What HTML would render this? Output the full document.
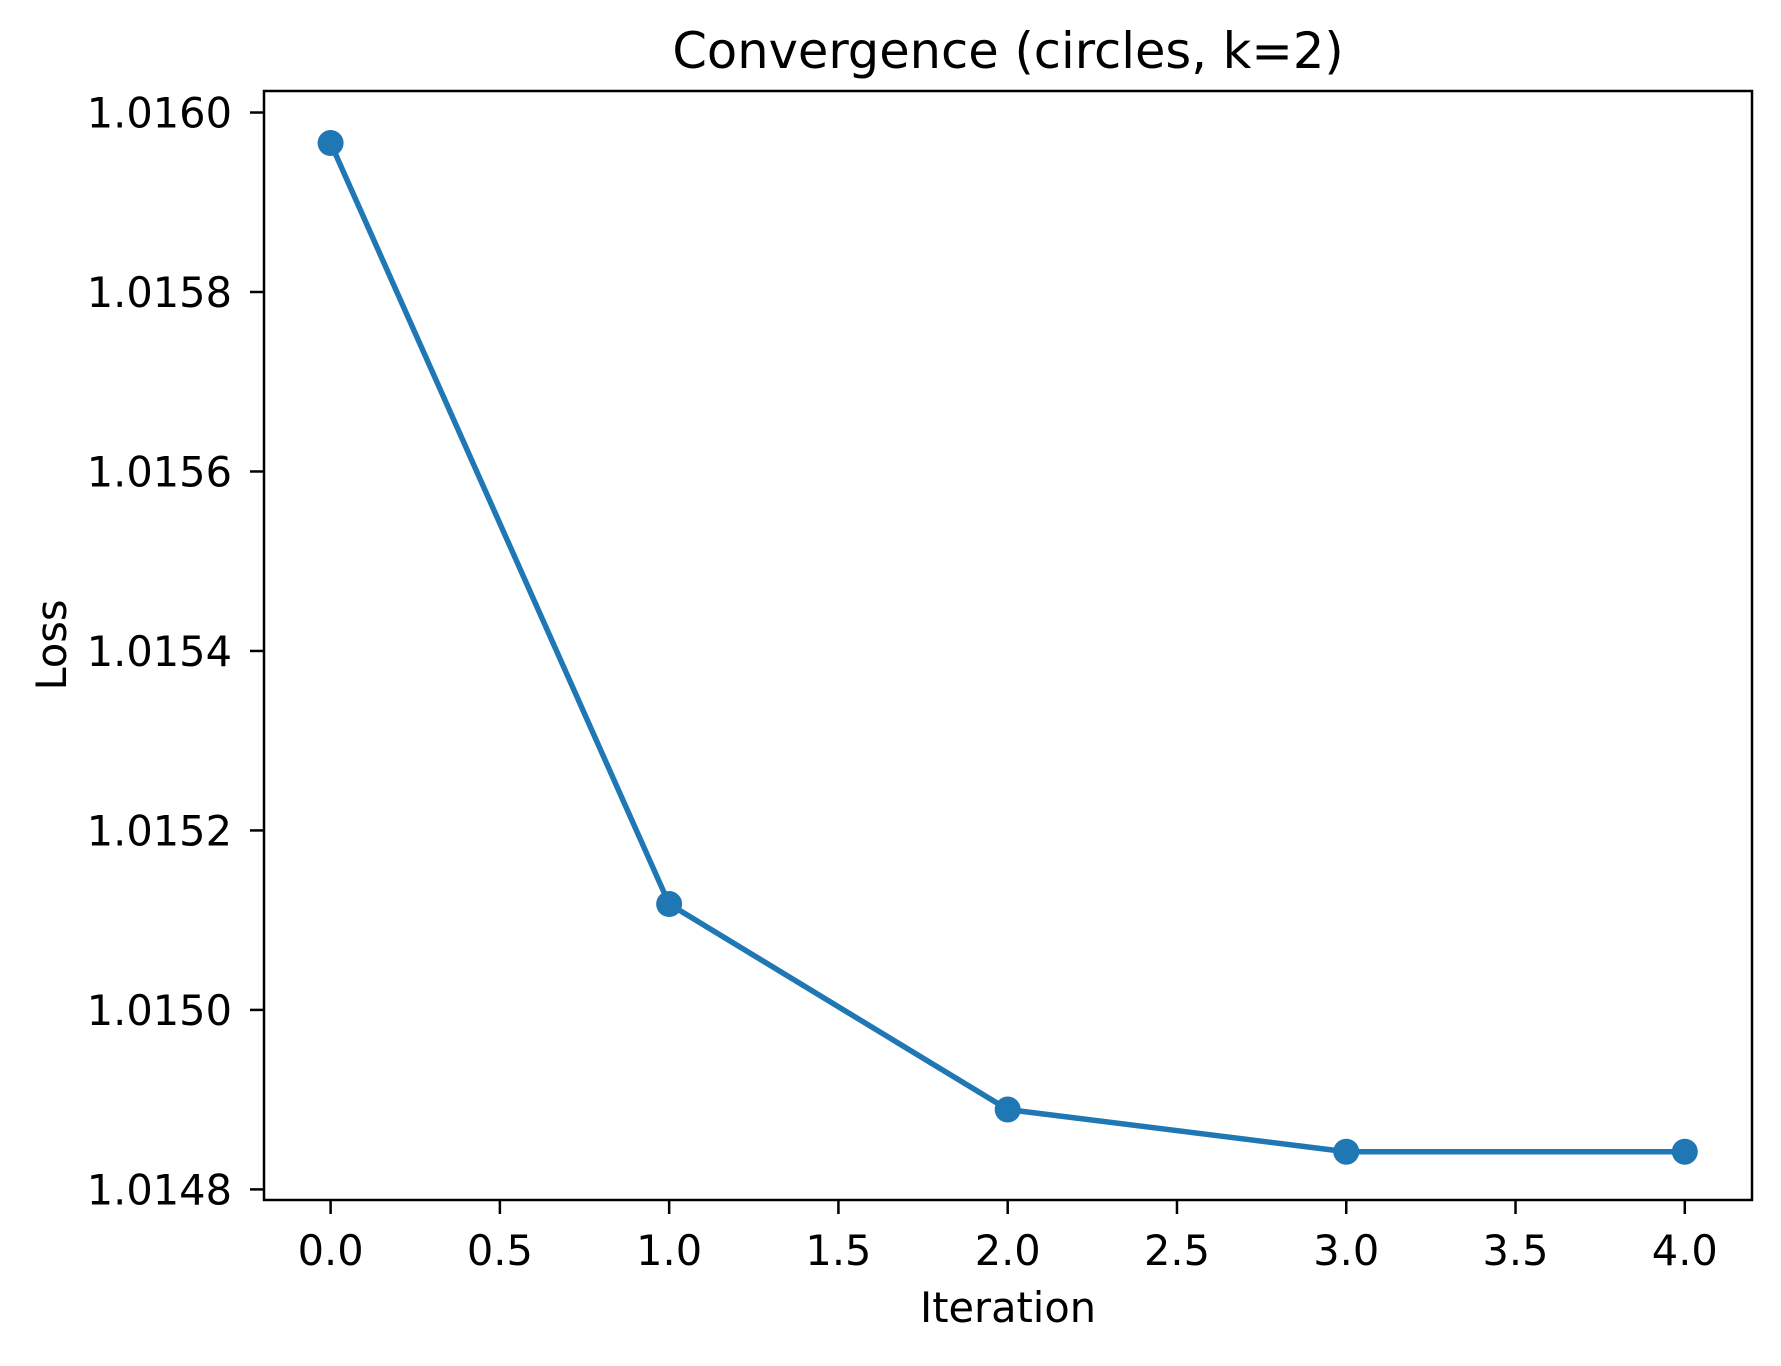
<!DOCTYPE html>
<html><head><meta charset="utf-8"><style>
html,body{margin:0;padding:0;background:#fff;}
svg text{font-family:"DejaVu Sans","Liberation Sans",sans-serif;fill:#000;}
</style></head><body>
<svg id="chart" width="1781" height="1361" viewBox="0 0 1781 1361" xmlns="http://www.w3.org/2000/svg">
<rect width="1781" height="1361" fill="#fff"/>
<text x="1008" y="68" font-size="49.5" text-anchor="middle">Convergence (circles, k=2)</text>
<text x="1008" y="1322" font-size="41.5" text-anchor="middle">Iteration</text>
<text transform="translate(66,645) rotate(-90)" font-size="41.5" text-anchor="middle">Loss</text>
<g id="ticks"></g>
<g id="series"></g>
<rect x="264" y="91" width="1488" height="1109" fill="none" stroke="#000" stroke-width="2.5"/>
</svg>
<script>
const iterations = [0, 1, 2, 3, 4];
const lossValues = [1.015966, 1.015118, 1.014889, 1.014842, 1.014842];
const xTickValues = [0, 0.5, 1, 1.5, 2, 2.5, 3, 3.5, 4];
const xTickLabels = ["0.0","0.5","1.0","1.5","2.0","2.5","3.0","3.5","4.0"];
const yTickValues = [1.0148, 1.0150, 1.0152, 1.0154, 1.0156, 1.0158, 1.0160];
const yTickLabels = ["1.0148","1.0150","1.0152","1.0154","1.0156","1.0158","1.0160"];

const NS = "http://www.w3.org/2000/svg";
function xScale(v){ return 330.6 + v * 338.55; }
function yScale(v){ return 1189.4 - (v - 1.0148) / 0.0002 * 179.48; }
const tg = document.getElementById('ticks');
const sg = document.getElementById('series');
function mk(tag, attrs, parent){ const e = document.createElementNS(NS, tag); for (const k in attrs) e.setAttribute(k, attrs[k]); parent.appendChild(e); return e; }

xTickValues.forEach((v, i) => {
  const x = xScale(v);
  const t = mk('line', {x1:x, x2:x, y1:1200, y2:1214, stroke:'#000', 'stroke-width':2.5}, tg);
  
  
  const l = mk('text', {x:x, y:1265, 'font-size':41.5, 'text-anchor':'middle'}, tg);
  l.textContent = xTickLabels[i];
  
  
});
yTickValues.forEach((v, i) => {
  const y = yScale(v);
  const t = mk('line', {x1:250, x2:264, y1:y, y2:y, stroke:'#000', 'stroke-width':2.5}, tg);
  
  
  const l = mk('text', {x:232, y:y + 15, 'font-size':41.5, 'text-anchor':'end'}, tg);
  l.textContent = yTickLabels[i];
  
  
});
const pts = iterations.map((v, i) => xScale(v) + ',' + yScale(lossValues[i])).join(' ');
const line = mk('polyline', {points: pts, fill:'none', stroke:'#1f77b4', 'stroke-width':5.5, 'stroke-linejoin':'round', 'stroke-linecap':'square'}, sg);


iterations.forEach((v, i) => {
  const c = mk('circle', {cx: xScale(v), cy: yScale(lossValues[i]), r: 13, fill:'#1f77b4'}, sg);
  
  
});
</script>
</body></html>
